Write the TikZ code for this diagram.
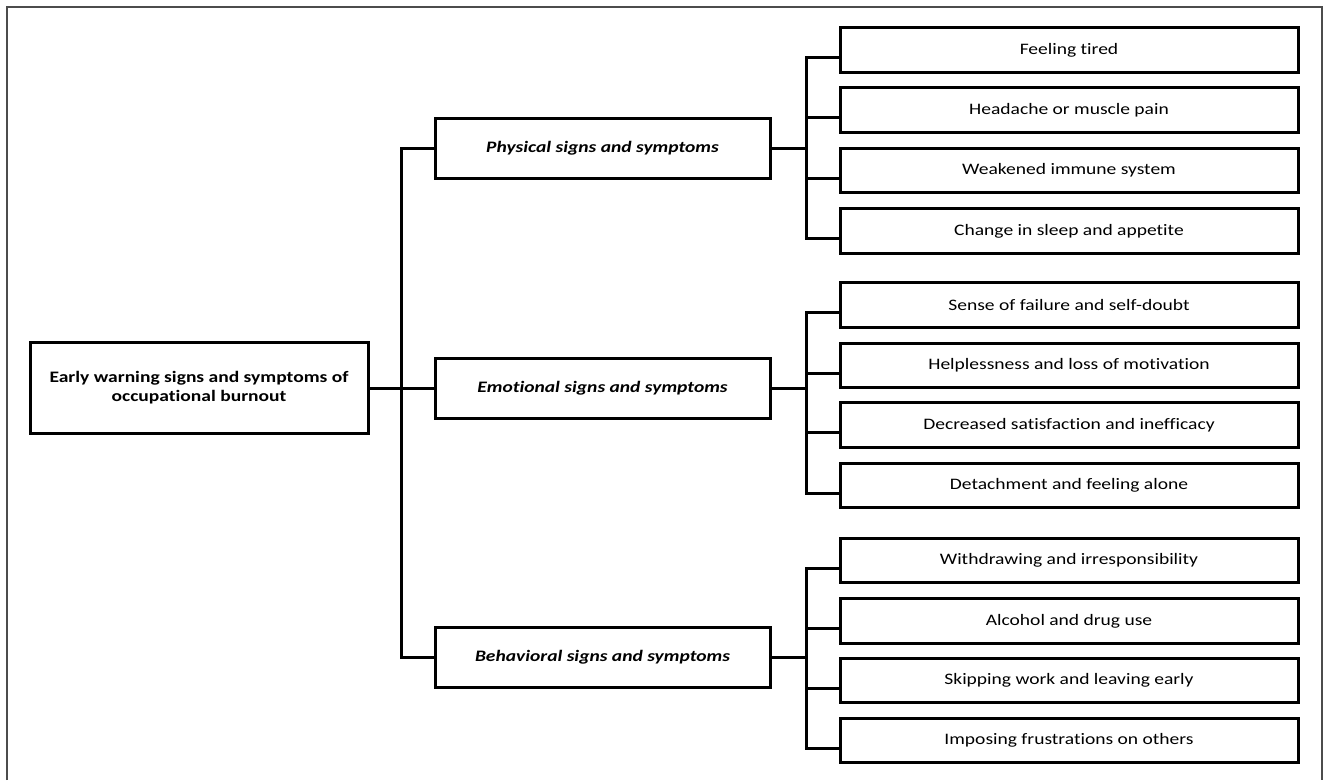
\documentclass[tikz,border=0pt]{standalone}
\usepackage{fontspec}
\setmainfont{Carlito}[FakeStretch=1.22, Ligatures=CommonOff]
\begin{document}
\begin{tikzpicture}[x=1pt,y=-1pt,
  box/.style={draw=black, line width=3pt, rectangle, inner sep=0pt, align=center, fill=white},
  rootbox/.style={box, minimum width=338pt, minimum height=91pt, font=\fontsize{16}{19}\selectfont\bfseries},
  midbox/.style={box, minimum width=335pt, minimum height=60pt, font=\fontsize{16}{19}\selectfont\bfseries\itshape},
  leafbox/.style={box, minimum width=458pt, minimum height=44.5pt, font=\fontsize{16}{19}\selectfont},
  conn/.style={draw=black, line width=3pt}]
\useasboundingbox (0,0) rectangle (1328,780);
\draw[line width=1.2pt, black!70] (7,780) -- (7,7) -- (1322,7) -- (1322,780);

\node[rootbox] (r) at (199,388) {Early warning signs and symptoms of\\occupational burnout};
\node[midbox] (p) at (602.5,148) {Physical signs and symptoms};
\node[midbox] (e) at (602.5,388) {Emotional signs and symptoms};
\node[midbox] (b) at (602.5,657.5) {Behavioral signs and symptoms};

\node[leafbox] (p1) at (1069,50) {Feeling tired};
\node[leafbox] (p2) at (1069,110) {Headache or muscle pain};
\node[leafbox] (p3) at (1069,170.5) {Weakened immune system};
\node[leafbox] (p4) at (1069,231) {Change in sleep and appetite};
\node[leafbox] (e1) at (1069,305) {Sense of failure and self-doubt};
\node[leafbox] (e2) at (1069,365.5) {Helplessness and loss of motivation};
\node[leafbox] (e3) at (1069,425) {Decreased satisfaction and inefficacy};
\node[leafbox] (e4) at (1069,485.5) {Detachment and feeling alone};
\node[leafbox] (b1) at (1069,560.5) {Withdrawing and irresponsibility};
\node[leafbox] (b2) at (1069,621) {Alcohol and drug use};
\node[leafbox] (b3) at (1069,680.5) {Skipping work and leaving early};
\node[leafbox] (b4) at (1069,740.5) {Imposing frustrations on others};

\coordinate (trunk) at (401,388);
\draw[conn] (r.east) -- (e.west);
\draw[conn] (p.west) -| (trunk);
\draw[conn] (b.west) -| (trunk);

\draw[conn] (p.east) -- ++(35,0) coordinate (pbus);
\draw[conn] (e.east) -- ++(35,0) coordinate (ebus);
\draw[conn] (b.east) -- ++(35,0) coordinate (bbus);
\foreach \n in {p1,p2,p3,p4} \draw[conn] ([yshift=-7.5pt]\n.west) -| (pbus);
\foreach \n in {e1,e2,e3,e4} \draw[conn] ([yshift=-7.5pt]\n.west) -| (ebus);
\foreach \n in {b1,b2,b3,b4} \draw[conn] ([yshift=-7.5pt]\n.west) -| (bbus);
\end{tikzpicture}
\end{document}
